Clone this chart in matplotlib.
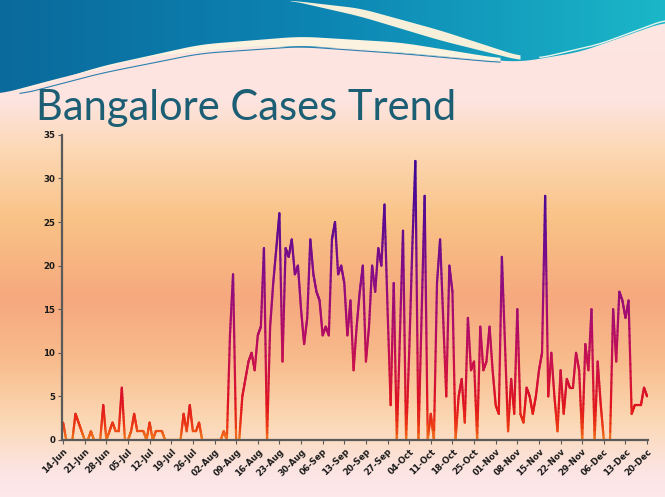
import numpy as np
import pandas as pd
import matplotlib
matplotlib.use("Agg")
import matplotlib.pyplot as plt
from matplotlib.collections import LineCollection
from matplotlib.colors import LinearSegmentedColormap, Normalize, to_rgb
from matplotlib.patches import Polygon

# daily cases, 14-Jun to 20-Dec
start_date = "2020-06-14"
end_date = "2020-12-20"
cases = [
    2, 0, 0, 0, 3, 2, 1,          # 14-Jun
    0, 0, 1, 0, 0, 0, 4,          # 21-Jun
    0, 1, 2, 1, 1, 6, 0,          # 28-Jun
    0, 1, 3, 1, 1, 1, 0,          # 05-Jul
    2, 0, 1, 1, 1, 0, 0,          # 12-Jul
    0, 0, 0, 0, 3, 1, 4,          # 19-Jul
    1, 1, 2, 0, 0, 0, 0,          # 26-Jul
    0, 0, 0, 1, 0, 12, 19,        # 02-Aug
    0, 0, 5, 7, 9, 10, 8,         # 09-Aug
    12, 13, 22, 0, 13, 18, 22,    # 16-Aug
    26, 9, 22, 21, 23, 19, 20,    # 23-Aug
    15, 11, 14, 23, 19, 17, 16,   # 30-Aug
    12, 13, 12, 23, 25, 19, 20,   # 06-Sep
    18, 12, 16, 8, 13, 17, 20,    # 13-Sep
    9, 13, 20, 17, 22, 20, 27,    # 20-Sep
    15, 4, 18, 0, 12, 24, 0,      # 27-Sep
    10, 22, 32, 0, 14, 28, 0,     # 04-Oct
    3, 0, 18, 23, 14, 5, 20,      # 11-Oct
    17, 0, 5, 7, 2, 14, 8,        # 18-Oct
    9, 0, 13, 8, 9, 13, 8,        # 25-Oct
    4, 3, 21, 11, 1, 7, 3,        # 01-Nov
    15, 3, 2, 6, 5, 3, 5,         # 08-Nov
    8, 10, 28, 5, 10, 5, 1,       # 15-Nov
    8, 3, 7, 6, 6, 10, 8,         # 22-Nov
    0, 11, 8, 15, 0, 9, 4,        # 29-Nov
    0, 0, 0, 15, 9, 17, 16,       # 06-Dec
    14, 16, 3, 4, 4, 4, 6,        # 13-Dec
    5,                            # 20-Dec
]
title = "Bangalore Cases Trend"

dates = pd.date_range(start_date, end_date, freq="D")
xnum = matplotlib.dates.date2num(dates)
y = np.array(cases, dtype=float)

W, H = 665, 497
fig = plt.figure(figsize=(W / 100, H / 100), dpi=100)

# slide background
bg = fig.add_axes([0, 0, 1, 1])
bg.set_xlim(0, W)
bg.set_ylim(H, 0)
bg.axis("off")
stops = [(0, "#fde6e4"), (100, "#fde4e0"), (150, "#fcd8b4"), (220, "#f9c286"),
         (300, "#f6a87e"), (360, "#f8bc8c"), (420, "#fbd8b4"), (470, "#fce4e2"),
         (497, "#fde8ec")]
rows = np.arange(H)
grad = np.zeros((H, 1, 3))
for c in range(3):
    grad[:, 0, c] = np.interp(rows, [s[0] for s in stops], [to_rgb(s[1])[c] for s in stops])
bg.imshow(grad, extent=[0, W, H, 0], aspect="auto", zorder=0)


def smooth(px, py, xs):
    v = np.interp(xs, px, py)
    k = np.ones(15) / 15
    return np.convolve(np.pad(v, 7, mode="edge"), k, mode="valid")


xs = np.linspace(0, W, 300)
lower = smooth([0, 60, 150, 250, 350, 450, 520, 580, 665],
               [94, 78, 56, 46, 48, 57, 62, 52, 22], xs)
blue = Polygon(np.column_stack([np.r_[xs, W, 0], np.r_[lower, 0, 0]]),
               closed=True, facecolor="none", edgecolor="none")
bg.add_patch(blue)
bgrad = np.zeros((1, 100, 3))
for c in range(3):
    bgrad[0, :, c] = np.interp(np.linspace(0, 1, 100), [0, 0.5, 1],
                               [to_rgb("#0a6a9c")[c], to_rgb("#0d86b4")[c], to_rgb("#1bb6c8")[c]])
im = bg.imshow(bgrad, extent=[0, W, 100, 0], aspect="auto", zorder=1)
im.set_clip_path(blue)

# cream swooshes
xa = np.linspace(20, 500, 200)
top_a = smooth([20, 100, 200, 300, 400, 500], [91, 66, 44, 36, 42, 58], xa)
bot_a = smooth([20, 100, 200, 300, 400, 500], [93, 72, 52, 45, 52, 61], xa)
bg.fill_between(xa, top_a, np.minimum(bot_a, np.interp(xa, xs, lower)),
                color="#fbf2e0", zorder=2, lw=0)
bg.plot(xa, bot_a + 1.5, color="#2a7fae", lw=0.8, zorder=2)
xb = np.linspace(290, 520, 120)
top_b = smooth([290, 360, 440, 520], [0, 8, 30, 56], xb)
bot_b = smooth([290, 360, 440, 520], [0, 16, 40, 60], xb)
bg.fill_between(xb, top_b, bot_b, color="#f6f0da", zorder=2, lw=0)
xc = np.linspace(540, 665, 80)
bg.plot(xc, smooth([540, 600, 665], [58, 44, 20], xc), color="#e8f4ec", lw=1.0, zorder=2)

bg.text(36, 120, title, fontsize=30, color="#1c5f74", family="Lato",
        ha="left", va="baseline", zorder=3)

# chart
ax = fig.add_axes([0.0935, 0.1147, 0.881, 0.614])
ax.patch.set_alpha(0)

cmap = LinearSegmentedColormap.from_list(
    "trend", [(0.0, "#f07a1e"), (0.047, "#ec3a14"), (0.125, "#e0141e"),
              (0.28, "#c8104e"), (0.4, "#b00c68"), (0.6, "#860c86"),
              (0.8, "#5a0a92"), (1.0, "#3c0898")])
norm = Normalize(0, 32)
n = 16
segs, vals = [], []
for i in range(len(y) - 1):
    sx = np.linspace(xnum[i], xnum[i + 1], n + 1)
    sy = np.linspace(y[i], y[i + 1], n + 1)
    pts = np.column_stack([sx, sy])
    segs.extend(np.stack([pts[:-1], pts[1:]], axis=1))
    vals.extend((sy[:-1] + sy[1:]) / 2)
lc = LineCollection(segs, cmap=cmap, norm=norm, linewidths=1.6, capstyle="round")
lc.set_array(np.array(vals))
ax.add_collection(lc)

ax.set_xlim(xnum[0] - 0.3, xnum[-1] + 0.3)
ax.set_ylim(0, 35)
ax.set_yticks(np.arange(0, 36, 5))
ax.set_xticks(xnum[::7])
ax.set_xticklabels([d.strftime("%d-%b") for d in dates[::7]], rotation=45,
                   ha="right", rotation_mode="anchor")
for s in ["top", "right"]:
    ax.spines[s].set_visible(False)
for s in ["left", "bottom"]:
    ax.spines[s].set_color("#5a5a5a")
    ax.spines[s].set_linewidth(1.6)
ax.tick_params(axis="both", labelsize=6.2, colors="#5a5a5a", labelcolor="#1a1a1a",
               length=3, width=0.8, pad=2)
for lab in ax.get_xticklabels() + ax.get_yticklabels():
    lab.set_fontweight("bold")

fig.savefig("out.png", dpi=100)
